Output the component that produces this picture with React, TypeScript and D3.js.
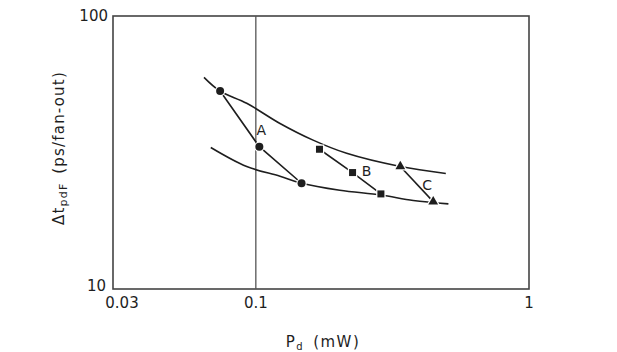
import React from "react";
import * as d3 from "d3";

// measured points (Pd in mW, delay in ps/fan-out)
const seriesA_P = [0.074, 0.103, 0.147];
const seriesA_T = [53.1, 33.2, 24.4];
const seriesB_P = [0.171, 0.226, 0.287];
const seriesB_T = [32.5, 26.7, 22.3];
const seriesC_P = [0.338, 0.446];
const seriesC_T = [28.1, 20.9];

// envelope curves
const upperP = [0.0646, 0.0739, 0.0926, 0.1226, 0.162, 0.215, 0.338, 0.496];
const upperT = [59.6, 53.1, 47.9, 40.4, 35.1, 31.4, 28.1, 26.5];
const lowerP = [0.0684, 0.0926, 0.1226, 0.147, 0.203, 0.287, 0.377, 0.507];
const lowerT = [33.0, 28.1, 25.9, 24.4, 23.0, 22.1, 21.1, 20.5];

const xTicks = [0.03, 0.1, 1];
const xTickLabels = ["0.03", "0.1", "1"];
const yTicks = [10, 100];
const seriesLabels = ["A", "B", "C"];

const W = 617;
const H = 352;
const margin = { left: 113, right: 88, top: 16, bottom: 63 };
const font = "'DejaVu Sans', sans-serif";
const ink = "#1e1e1e";

export default function App() {
  const x = d3.scaleLog().domain([0.03, 1]).range([margin.left, W - margin.right]);
  const y = d3.scaleLog().domain([10, 100]).range([H - margin.bottom, margin.top]);

  const zip = (ps: number[], ts: number[]) => ps.map((p, i) => [p, ts[i]] as [number, number]);
  const smooth = d3
    .line<[number, number]>()
    .x((d) => x(d[0]))
    .y((d) => y(d[1]))
    .curve(d3.curveCatmullRom.alpha(0.5));
  const straight = d3
    .line<[number, number]>()
    .x((d) => x(d[0]))
    .y((d) => y(d[1]));

  const A = zip(seriesA_P, seriesA_T);
  const B = zip(seriesB_P, seriesB_T);
  const C = zip(seriesC_P, seriesC_T);
  const tri = d3.symbol().type(d3.symbolTriangle).size(42)();

  // label offsets in px from the middle point of each series
  const labelPos = [
    [A[1][0], A[1][1], 2, -12],
    [B[1][0], B[1][1], 14, 3],
    [C[1][0], C[1][1], -6, -12],
  ];

  return (
    <svg width={W} height={H} style={{ position: "absolute", left: 0, top: 0, background: "#fff" }}>
      <rect width={W} height={H} fill="#fff" />
      {/* frame */}
      <rect
        x={margin.left}
        y={margin.top}
        width={W - margin.left - margin.right}
        height={H - margin.top - margin.bottom}
        fill="none"
        stroke="#444"
        strokeWidth={1.6}
      />
      {/* grid line at 0.1 */}
      <line x1={x(0.1)} x2={x(0.1)} y1={y(100)} y2={y(10)} stroke="#555" strokeWidth={1.3} />

      {/* tick labels */}
      {xTicks.map((t, i) => (
        <text
          key={t}
          x={x(t) + (i === 0 ? 9 : 0)}
          y={y(10) + 19}
          textAnchor="middle"
          fontFamily={font}
          fontSize={15}
          fill={ink}
        >
          {xTickLabels[i]}
        </text>
      ))}
      {yTicks.map((t) => (
        <text
          key={t}
          x={margin.left - (t === 10 ? 7 : 5)}
          y={y(t) + (t === 10 ? 2 : 5)}
          textAnchor="end"
          fontFamily={font}
          fontSize={15}
          fill={ink}
        >
          {t}
        </text>
      ))}

      {/* axis titles */}
      <text x={323} y={347} textAnchor="middle" fontFamily={font} fontSize={15} letterSpacing={1.5} fill={ink}>
        P<tspan fontSize={10} dy={3}>d</tspan>
        <tspan dy={-3}>{"\u2002(mW)"}</tspan>
      </text>
      <text
        transform={`translate(64,148) rotate(-90)`}
        textAnchor="middle"
        fontFamily={font}
        fontSize={15}
        letterSpacing={1.2}
        fill={ink}
      >
        Δt<tspan fontSize={11} dy={3}>pdF</tspan>
        <tspan dy={-3}>{"\u2002(ps/fan-out)"}</tspan>
      </text>

      {/* envelope curves */}
      <path d={smooth(zip(upperP, upperT)) || ""} fill="none" stroke={ink} strokeWidth={1.6} />
      <path d={smooth(zip(lowerP, lowerT)) || ""} fill="none" stroke={ink} strokeWidth={1.6} />

      {/* series connecting lines */}
      {[A, B, C].map((s, i) => (
        <path key={i} d={straight(s) || ""} fill="none" stroke={ink} strokeWidth={1.6} />
      ))}

      {/* markers with white halo */}
      {A.map((d, i) => (
        <circle key={"a" + i} cx={x(d[0])} cy={y(d[1])} r={4} fill={ink} stroke="#fff" strokeWidth={2.5} paintOrder="stroke" />
      ))}
      {B.map((d, i) => (
        <rect
          key={"b" + i}
          x={x(d[0]) - 3.5}
          y={y(d[1]) - 3.5}
          width={7}
          height={7}
          fill={ink}
          stroke="#fff"
          strokeWidth={2.5}
          paintOrder="stroke"
        />
      ))}
      {C.map((d, i) => (
        <path
          key={"c" + i}
          d={tri || ""}
          transform={`translate(${x(d[0])},${y(d[1])})`}
          fill={ink}
          stroke="#fff"
          strokeWidth={2.5}
          paintOrder="stroke"
        />
      ))}

      {labelPos.map((l, i) => (
        <text
          key={seriesLabels[i]}
          x={x(l[0]) + l[2]}
          y={y(l[1]) + l[3]}
          textAnchor="middle"
          fontFamily={font}
          fontSize={14}
          fill={ink}
        >
          {seriesLabels[i]}
        </text>
      ))}
    </svg>
  );
}
